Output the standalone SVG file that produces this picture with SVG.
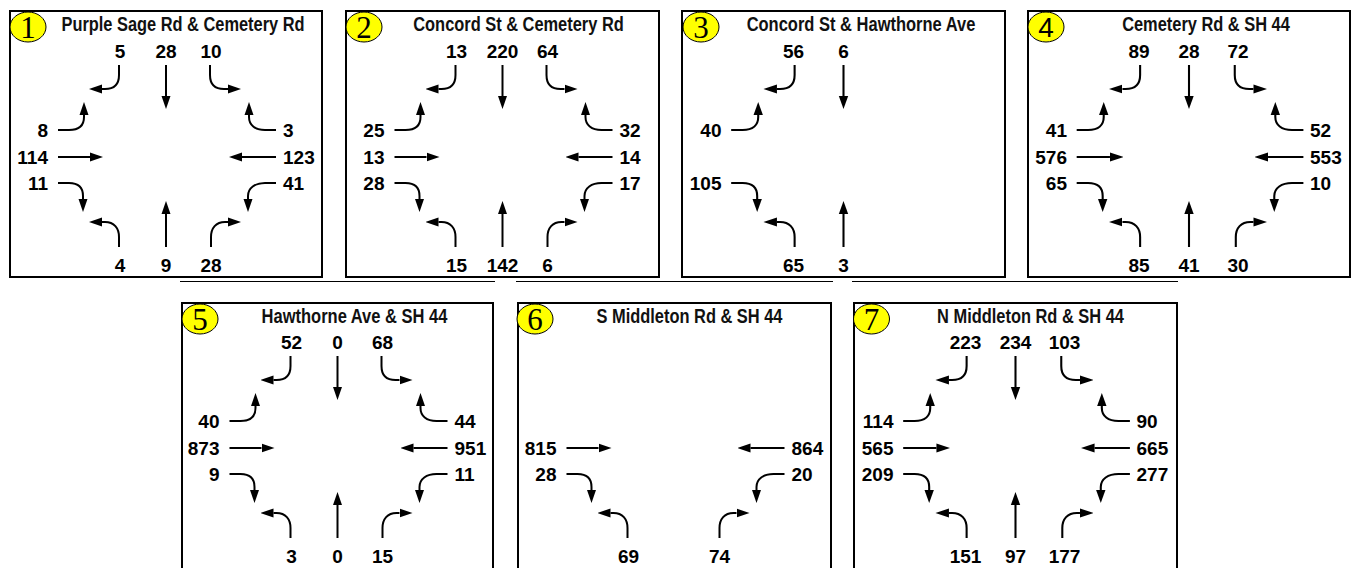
<svg xmlns="http://www.w3.org/2000/svg" xmlns:xlink="http://www.w3.org/1999/xlink" width="1357" height="568" viewBox="0 0 1357 568">
<style>
.frame{fill:#fff;stroke:#000;stroke-width:2}
.badge{fill:#ffff00;stroke:#000;stroke-width:1}
.bn{font-family:"Liberation Serif","Times New Roman",serif;font-size:31px;text-anchor:middle;fill:#000}
.bns{font-family:"Liberation Sans",Arial,sans-serif;font-size:28px;text-anchor:middle;fill:#000}
.title{font-family:"Liberation Sans Narrow","Liberation Sans",Arial,sans-serif;font-weight:bold;font-size:20px;text-anchor:middle;fill:#111}
.n{font-family:"Liberation Sans",Arial,sans-serif;font-weight:bold;font-size:19px;fill:#000}
.c{text-anchor:middle}.l{text-anchor:end}.r{text-anchor:start}
.mv{fill:none;stroke:#000;stroke-width:2;marker-end:url(#ah)}
.sep{stroke:#000;stroke-width:1.2}
</style>
<defs>
<marker id="ah" markerUnits="userSpaceOnUse" markerWidth="13" markerHeight="10" refX="0" refY="5" orient="auto" viewBox="0 0 13 10"><path d="M0,0.5 L13,5 L0,9.5 Z" fill="#000"/></marker>
<path id="a1" class="mv" d="M-47,-92 V-82 C-47,-73 -52,-68 -61,-68 H-64"/>
<path id="a2" class="mv" d="M0,-92 V-61"/>
<path id="a3" class="mv" d="M44,-92 V-82 C44,-73 49,-68 58,-68 H62"/>
<path id="a4" class="mv" d="M-108,-27 H-97 C-87,-27 -82,-32 -82,-40 V-42"/>
<path id="a5" class="mv" d="M-108,0 H-76"/>
<path id="a6" class="mv" d="M-108,26 H-97 C-87,26 -83,31 -83,39 V42"/>
<path id="a7" class="mv" d="M110,-27 H99 C89,-27 83,-32 83,-40 V-42"/>
<path id="a8" class="mv" d="M110,0 H76"/>
<path id="a9" class="mv" d="M110,26 H99 C89,26 82,31 82,39 V42"/>
<path id="a10" class="mv" d="M-47,90 V80 C-47,71 -52,65 -61,65 H-64"/>
<path id="a11" class="mv" d="M0,90 V57"/>
<path id="a12" class="mv" d="M45,90 V80 C45,71 50,65 59,65 H62"/>
<g id="all12">
<use href="#a1"/><use href="#a2"/><use href="#a3"/><use href="#a4"/><use href="#a5"/><use href="#a6"/>
<use href="#a7"/><use href="#a8"/><use href="#a9"/><use href="#a10"/><use href="#a11"/><use href="#a12"/>
</g>
</defs>
<rect width="1357" height="568" fill="#fff"/>

<g id="separators">
<line class="sep" x1="180" y1="281.5" x2="495" y2="281.5"/>
<line class="sep" x1="516" y1="281.5" x2="833" y2="281.5"/>
<line class="sep" x1="852" y1="281.5" x2="1178" y2="281.5"/>
</g>

<g id="int1">
<rect class="frame" x="10" y="11" width="312" height="266"/>
<ellipse class="badge" cx="28" cy="27" rx="18" ry="15"/>
<text class="bn" x="28" y="38">1</text>
<text class="title" x="183" y="31" textLength="243" lengthAdjust="spacingAndGlyphs">Purple Sage Rd &amp; Cemetery Rd</text>
<g class="movements" transform="translate(166,157)"><use href="#all12"/></g>
<g transform="translate(166,157)">
<text class="n c" x="-46" y="-99">5</text><text class="n c" x="0" y="-99">28</text><text class="n c" x="45" y="-99">10</text>
<text class="n l" x="-118" y="-20">8</text><text class="n l" x="-118" y="7">114</text><text class="n l" x="-118" y="33">11</text>
<text class="n r" x="117" y="-20">3</text><text class="n r" x="117" y="7">123</text><text class="n r" x="117" y="33">41</text>
<text class="n c" x="-46" y="115">4</text><text class="n c" x="0" y="115">9</text><text class="n c" x="45" y="115">28</text>
</g>
</g>

<g id="int2">
<rect class="frame" x="346" y="11" width="313" height="266"/>
<ellipse class="badge" cx="364" cy="27" rx="18" ry="15"/>
<text class="bn" x="364" y="38">2</text>
<text class="title" x="518.5" y="31" textLength="210.5" lengthAdjust="spacingAndGlyphs">Concord St &amp; Cemetery Rd</text>
<g class="movements" transform="translate(502.5,157)"><use href="#all12"/></g>
<g transform="translate(502.5,157)">
<text class="n c" x="-46" y="-99">13</text><text class="n c" x="0" y="-99">220</text><text class="n c" x="45" y="-99">64</text>
<text class="n l" x="-118" y="-20">25</text><text class="n l" x="-118" y="7">13</text><text class="n l" x="-118" y="33">28</text>
<text class="n r" x="117" y="-20">32</text><text class="n r" x="117" y="7">14</text><text class="n r" x="117" y="33">17</text>
<text class="n c" x="-46" y="115">15</text><text class="n c" x="0" y="115">142</text><text class="n c" x="45" y="115">6</text>
</g>
</g>

<g id="int3">
<rect class="frame" x="682" y="11" width="323" height="266"/>
<ellipse class="badge" cx="701" cy="27" rx="18" ry="15"/>
<text class="bn" x="701" y="38">3</text>
<text class="title" x="861" y="31" textLength="228.7" lengthAdjust="spacingAndGlyphs">Concord St &amp; Hawthorne Ave</text>
<g class="movements" transform="translate(843.5,157) scale(1.04,1)">
<use href="#a1"/><use href="#a2"/><use href="#a4"/><use href="#a6"/><use href="#a10"/><use href="#a11"/>
</g>
<g transform="translate(843.5,157)">
<text class="n c" x="-50" y="-99">56</text><text class="n c" x="0" y="-99">6</text>
<text class="n l" x="-122" y="-20">40</text><text class="n l" x="-122" y="33">105</text>
<text class="n c" x="-50" y="115">65</text><text class="n c" x="0" y="115">3</text>
</g>
</g>

<g id="int4">
<rect class="frame" x="1028" y="11" width="322" height="266"/>
<ellipse class="badge" cx="1046" cy="27" rx="18" ry="15"/>
<text class="bns" x="1046" y="37">4</text>
<text class="title" x="1206" y="31" textLength="167.7" lengthAdjust="spacingAndGlyphs">Cemetery Rd &amp; SH 44</text>
<g class="movements" transform="translate(1189,157) scale(1.04,1)"><use href="#all12"/></g>
<g transform="translate(1189,157)">
<text class="n c" x="-50" y="-99">89</text><text class="n c" x="0" y="-99">28</text><text class="n c" x="49" y="-99">72</text>
<text class="n l" x="-122" y="-20">41</text><text class="n l" x="-122" y="7">576</text><text class="n l" x="-122" y="33">65</text>
<text class="n r" x="121" y="-20">52</text><text class="n r" x="121" y="7">553</text><text class="n r" x="121" y="33">10</text>
<text class="n c" x="-50" y="115">85</text><text class="n c" x="0" y="115">41</text><text class="n c" x="49" y="115">30</text>
</g>
</g>

<g id="int5">
<rect class="frame" x="182" y="303" width="311" height="280"/>
<ellipse class="badge" cx="200" cy="319" rx="18" ry="15"/>
<text class="bn" x="200" y="330">5</text>
<text class="title" x="354.5" y="323" textLength="185.9" lengthAdjust="spacingAndGlyphs">Hawthorne Ave &amp; SH 44</text>
<g class="movements" transform="translate(337.5,448)"><use href="#all12"/></g>
<g transform="translate(337.5,448)">
<text class="n c" x="-46" y="-99">52</text><text class="n c" x="0" y="-99">0</text><text class="n c" x="45" y="-99">68</text>
<text class="n l" x="-118" y="-20">40</text><text class="n l" x="-118" y="7">873</text><text class="n l" x="-118" y="33">9</text>
<text class="n r" x="117" y="-20">44</text><text class="n r" x="117" y="7">951</text><text class="n r" x="117" y="33">11</text>
<text class="n c" x="-46" y="115">3</text><text class="n c" x="0" y="115">0</text><text class="n c" x="45" y="115">15</text>
</g>
</g>

<g id="int6">
<rect class="frame" x="518" y="303" width="313" height="280"/>
<ellipse class="badge" cx="535" cy="319" rx="18" ry="15"/>
<text class="bn" x="535" y="330">6</text>
<text class="title" x="689.5" y="323" textLength="185.9" lengthAdjust="spacingAndGlyphs">S Middleton Rd &amp; SH 44</text>
<g class="movements" transform="translate(674.5,448)">
<use href="#a5"/><use href="#a6"/><use href="#a8"/><use href="#a9"/><use href="#a10"/><use href="#a12"/>
</g>
<g transform="translate(674.5,448)">
<text class="n l" x="-118" y="7">815</text><text class="n l" x="-118" y="33">28</text>
<text class="n r" x="117" y="7">864</text><text class="n r" x="117" y="33">20</text>
<text class="n c" x="-46" y="115">69</text><text class="n c" x="45" y="115">74</text>
</g>
</g>

<g id="int7">
<rect class="frame" x="854" y="303" width="323" height="280"/>
<ellipse class="badge" cx="871.5" cy="319" rx="18" ry="15"/>
<text class="bn" x="871.5" y="330">7</text>
<text class="title" x="1030.5" y="323" textLength="186.8" lengthAdjust="spacingAndGlyphs">N Middleton Rd &amp; SH 44</text>
<g class="movements" transform="translate(1015.5,448) scale(1.04,1)"><use href="#all12"/></g>
<g transform="translate(1015.5,448)">
<text class="n c" x="-50" y="-99">223</text><text class="n c" x="0" y="-99">234</text><text class="n c" x="49" y="-99">103</text>
<text class="n l" x="-122" y="-20">114</text><text class="n l" x="-122" y="7">565</text><text class="n l" x="-122" y="33">209</text>
<text class="n r" x="121" y="-20">90</text><text class="n r" x="121" y="7">665</text><text class="n r" x="121" y="33">277</text>
<text class="n c" x="-50" y="115">151</text><text class="n c" x="0" y="115">97</text><text class="n c" x="49" y="115">177</text>
</g>
</g>
</svg>
